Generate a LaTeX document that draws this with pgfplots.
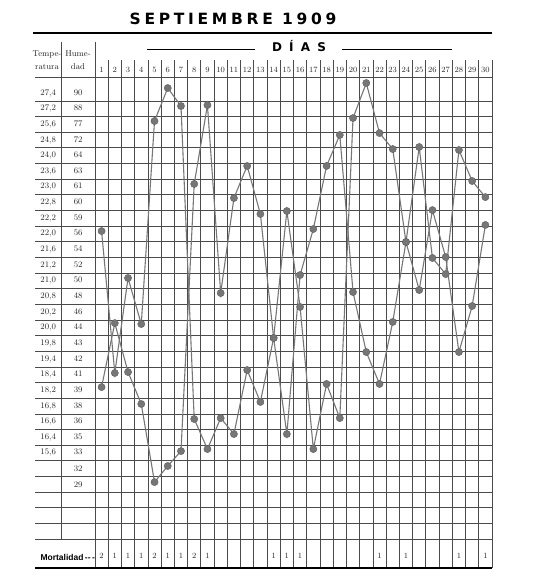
\documentclass[border=0pt]{standalone}
\usepackage{pgfplots}
\pgfplotsset{compat=1.18}
\usepackage{pgfplotstable}
\usepackage{fontspec}
\newfontfamily\titlefont[LetterSpace=24]{DejaVu Sans}
\newfontfamily\diasfont[LetterSpace=60]{DejaVu Sans}
\newfontfamily\mortfont{Liberation Sans}

\definecolor{rejilla}{RGB}{75,75,75}
\definecolor{curva}{RGB}{118,118,118}

% positions are in rows of the grid, counted from the 27,4 / 90 row (0) downwards
\pgfplotstableread{
dia tem hum
1  8.82 18.79
2 17.89 14.70
3 11.82 17.83
4 14.76 19.87
5  1.79 24.86
6 -0.32 23.83
7  0.83 22.88
8 20.83  5.81
9 22.75  0.77
10 20.77 12.78
11 21.79  6.71
12 17.70  4.66
13 19.74  7.73
14 15.65 15.65
15  7.54 21.79
16 13.67 11.63
17 22.75  8.69
18 18.59  4.66
19 20.77  2.68
20  1.60 12.72
21 -0.64 16.55
22  2.56 18.59
23  3.58 14.63
24  9.52  9.52
25 12.59  3.45
26  7.48 10.54
27 10.48 11.57
28 16.55  3.64
29 13.61  5.62
30  8.43  6.65
}\datos

\pgfplotstableread{
dia m
1 2
2 1
3 1
4 1
5 2
6 1
7 1
8 2
9 1
14 1
15 1
16 1
22 1
24 1
28 1
30 1
}\mortalidad

\begin{document}
\begin{tikzpicture}
\path[use as bounding box] (0,0) rectangle (533pt,-578pt);

\node[font=\titlefont\bfseries\fontsize{15.5}{15.5}\selectfont] at (233pt,-19pt) {SEPTIEMBRE 1909};
\draw[line width=1.8pt] (33pt,-33pt) -- (492pt,-33pt);
\node[font=\diasfont\bfseries\fontsize{12}{12}\selectfont] at (299pt,-46pt) {DÍAS};
\draw[line width=0.6pt] (147pt,-49pt) -- (255pt,-49pt);
\draw[line width=0.6pt] (342pt,-49pt) -- (452pt,-49pt);

\begin{axis}[
    at={(35pt,-60pt)}, anchor=north west,
    scale only axis, width=457pt, height=508pt,
    xmin=-4.03, xmax=30.5,
    ymin=-2.11, ymax=30.35, y dir=reverse,
    axis line style={draw=none},
    xtick={0.5,1.5,...,30.5}, xticklabels={},
    xmajorgrids=true,
    major grid style={draw=rejilla, line width=0.7pt},
    ytick={0,...,25},
    yticklabels={
      {\makebox[26pt]{27,4}\makebox[34pt]{90}},
      {\makebox[26pt]{27,2}\makebox[34pt]{88}},
      {\makebox[26pt]{25,6}\makebox[34pt]{77}},
      {\makebox[26pt]{24,8}\makebox[34pt]{72}},
      {\makebox[26pt]{24,0}\makebox[34pt]{64}},
      {\makebox[26pt]{23,6}\makebox[34pt]{63}},
      {\makebox[26pt]{23,0}\makebox[34pt]{61}},
      {\makebox[26pt]{22,8}\makebox[34pt]{60}},
      {\makebox[26pt]{22,2}\makebox[34pt]{59}},
      {\makebox[26pt]{22,0}\makebox[34pt]{56}},
      {\makebox[26pt]{21,6}\makebox[34pt]{54}},
      {\makebox[26pt]{21,2}\makebox[34pt]{52}},
      {\makebox[26pt]{21,0}\makebox[34pt]{50}},
      {\makebox[26pt]{20,8}\makebox[34pt]{48}},
      {\makebox[26pt]{20,2}\makebox[34pt]{46}},
      {\makebox[26pt]{20,0}\makebox[34pt]{44}},
      {\makebox[26pt]{19,8}\makebox[34pt]{43}},
      {\makebox[26pt]{19,4}\makebox[34pt]{42}},
      {\makebox[26pt]{18,4}\makebox[34pt]{41}},
      {\makebox[26pt]{18,2}\makebox[34pt]{39}},
      {\makebox[26pt]{16,8}\makebox[34pt]{38}},
      {\makebox[26pt]{16,6}\makebox[34pt]{36}},
      {\makebox[26pt]{16,4}\makebox[34pt]{35}},
      {\makebox[26pt]{15,6}\makebox[34pt]{33}},
      {\makebox[26pt]{}\makebox[34pt]{32}},
      {\makebox[26pt]{}\makebox[34pt]{29}}
    },
    yticklabel style={anchor=west, inner sep=0pt, font=\fontsize{8.5}{8.5}\selectfont, text=black!85},
    major tick length=0pt, minor tick length=0pt,
    minor ytick={0.5,1.5,...,28.5},
    yminorgrids=true,
    minor grid style={draw=rejilla, line width=0.7pt},
    every node near coord/.append style={anchor=center, inner sep=0pt, text=black!85},
    clip=false,
]
% day numbers in the header row
\addplot[draw=none, mark=none, nodes near coords, point meta=explicit,
    every node near coord/.append style={font=\fontsize{8}{8}\selectfont}]
    table[x=dia, y expr=-1.5, meta=dia] {\datos};
% temperatura
\addplot[curva, line width=1.1pt, mark=*, mark size=3.6pt,
    mark options={fill=curva, draw=curva!80!black, line width=0.4pt}]
    table[x=dia, y=tem] {\datos};
% humedad
\addplot[curva, line width=1.1pt, mark=*, mark size=3.6pt,
    mark options={fill=curva, draw=curva!80!black, line width=0.4pt}]
    table[x=dia, y=hum] {\datos};
% mortalidad
\addplot[draw=none, mark=none, nodes near coords, point meta=explicit,
    every node near coord/.append style={font=\fontsize{8}{8}\selectfont}]
    table[x=dia, y expr=29.58, meta=m] {\mortalidad};
\end{axis}

% header of the label columns
\draw[rejilla, line width=0.7pt] (35pt,-77pt) -- (492pt,-77pt);
\draw[rejilla, line width=0.7pt] (61pt,-42pt) -- (61pt,-539pt);
\draw[rejilla, line width=0.7pt] (95pt,-42pt) -- (95pt,-60pt);
\draw[line width=1.6pt] (35pt,-568pt) -- (492pt,-568pt);
\node[font=\fontsize{8.5}{8.5}\selectfont, text=black!85] at (47pt,-54pt) {Tempe-};
\node[font=\fontsize{8.5}{8.5}\selectfont, text=black!85] at (47pt,-67pt) {ratura};
\node[font=\fontsize{8.5}{8.5}\selectfont, text=black!85] at (78pt,-54pt) {Hume-};
\node[font=\fontsize{8.5}{8.5}\selectfont, text=black!85] at (78pt,-67pt) {dad};
\node[font=\mortfont\bfseries\fontsize{8.5}{8.5}\selectfont, anchor=west] at (37pt,-557pt) {Mortalidad\,--\,-};
\end{tikzpicture}
\end{document}
